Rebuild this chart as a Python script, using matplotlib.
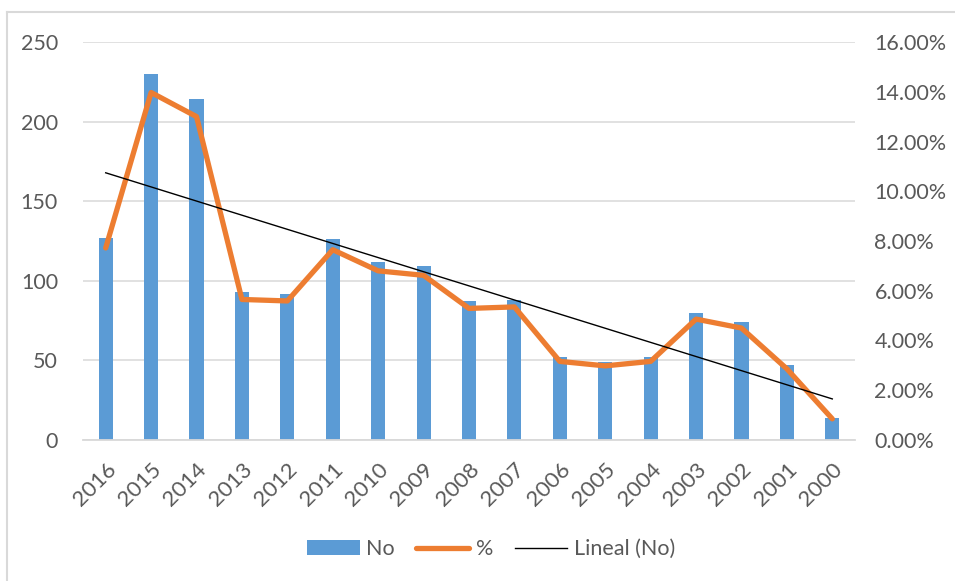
import matplotlib
matplotlib.use("Agg")
import matplotlib.pyplot as plt
import numpy as np
from matplotlib.patches import Patch
from matplotlib.lines import Line2D
from matplotlib.ticker import FuncFormatter

plt.rcParams['font.family'] = ['Lato', 'DejaVu Sans']

years = ["2016", "2015", "2014", "2013", "2012", "2011", "2010", "2009", "2008",
         "2007", "2006", "2005", "2004", "2003", "2002", "2001", "2000"]
counts = [127, 230, 214, 93, 92, 126, 112, 109, 87, 88, 52, 49, 52, 80, 74, 47, 14]
percent = [7.72, 13.97, 13.00, 5.65, 5.59, 7.65, 6.80, 6.62, 5.29, 5.35,
           3.16, 2.98, 3.16, 4.86, 4.50, 2.86, 0.85]

BLUE = "#5B9BD5"
ORANGE = "#ED7D31"
TXT = "#595959"
GRID = "#D9D9D9"
FS = 15.5

W, H = 955, 581
fig = plt.figure(figsize=(W / 100, H / 100), dpi=100)
ax = fig.add_axes([83 / W, 1 - 440 / H, (855 - 83) / W, (440 - 42) / H])
ax2 = ax.twinx()

x = np.arange(len(years))
ax.bar(x, counts, width=0.31, color=BLUE, zorder=2)
ax.set_xlim(-0.5, len(years) - 0.5)
ax.set_ylim(0, 250)
ax.set_yticks(np.arange(0, 251, 50))
ax.grid(axis='y', color=GRID, linewidth=1.1, zorder=0)
ax.set_axisbelow(True)
ax.set_xticks(x)
for s in ax.spines.values():
    s.set_visible(False)
for s in ax2.spines.values():
    s.set_visible(False)
ax.spines['bottom'].set_visible(True)
ax.spines['bottom'].set_color(GRID)
ax.spines['bottom'].set_linewidth(1.3)
ax.tick_params(axis='both', length=0, colors=TXT, labelsize=FS)
ax.tick_params(axis='y', pad=18)
ax.tick_params(axis='x', pad=14)
ax.set_xticklabels(years, rotation=45, ha='right', rotation_mode='anchor', fontsize=16)

# trend line (linear fit of counts, x = 1..n)
xi = np.arange(1, len(years) + 1)
slope, intercept = np.polyfit(xi, counts, 1)
trend = slope * xi + intercept

pct = np.array(percent) / 100.0
ax2.plot(x, pct, color=ORANGE, linewidth=3.8, solid_capstyle='round',
         solid_joinstyle='round', zorder=3)
ax2.plot(x, trend, color='black', linewidth=1.0, transform=ax.transData, zorder=4)
ax2.set_ylim(0, 0.16)
ax2.set_yticks(np.arange(0, 0.161, 0.02))
ax2.yaxis.set_major_formatter(FuncFormatter(lambda v, p: f"{v*100:.2f}%"))
ax2.tick_params(axis='y', length=0, colors=TXT, labelsize=FS, pad=14)

# chart frame (left and top edges visible)
fig.add_artist(Line2D([7 / W, 7 / W], [0, 1 - 12 / H], transform=fig.transFigure,
                      color=GRID, linewidth=1.5))
fig.add_artist(Line2D([7 / W, 1], [1 - 12 / H, 1 - 12 / H], transform=fig.transFigure,
                      color=GRID, linewidth=1.5))

handles = [Patch(facecolor=BLUE, edgecolor='none', label='No'),
           Line2D([0], [0], color=ORANGE, linewidth=3.8, solid_capstyle='round', label='%'),
           Line2D([0], [0], color='black', linewidth=1.0, label='Lineal (No)')]
leg = fig.legend(handles=handles, loc='center', bbox_to_anchor=(491 / W, 1 - 549 / H),
                 ncol=3, frameon=False, fontsize=FS, handlelength=2.45, handleheight=0.65,
                 handletextpad=0.3, columnspacing=1.0)
for t in leg.get_texts():
    t.set_color(TXT)

fig.savefig("out.png", dpi=100)
